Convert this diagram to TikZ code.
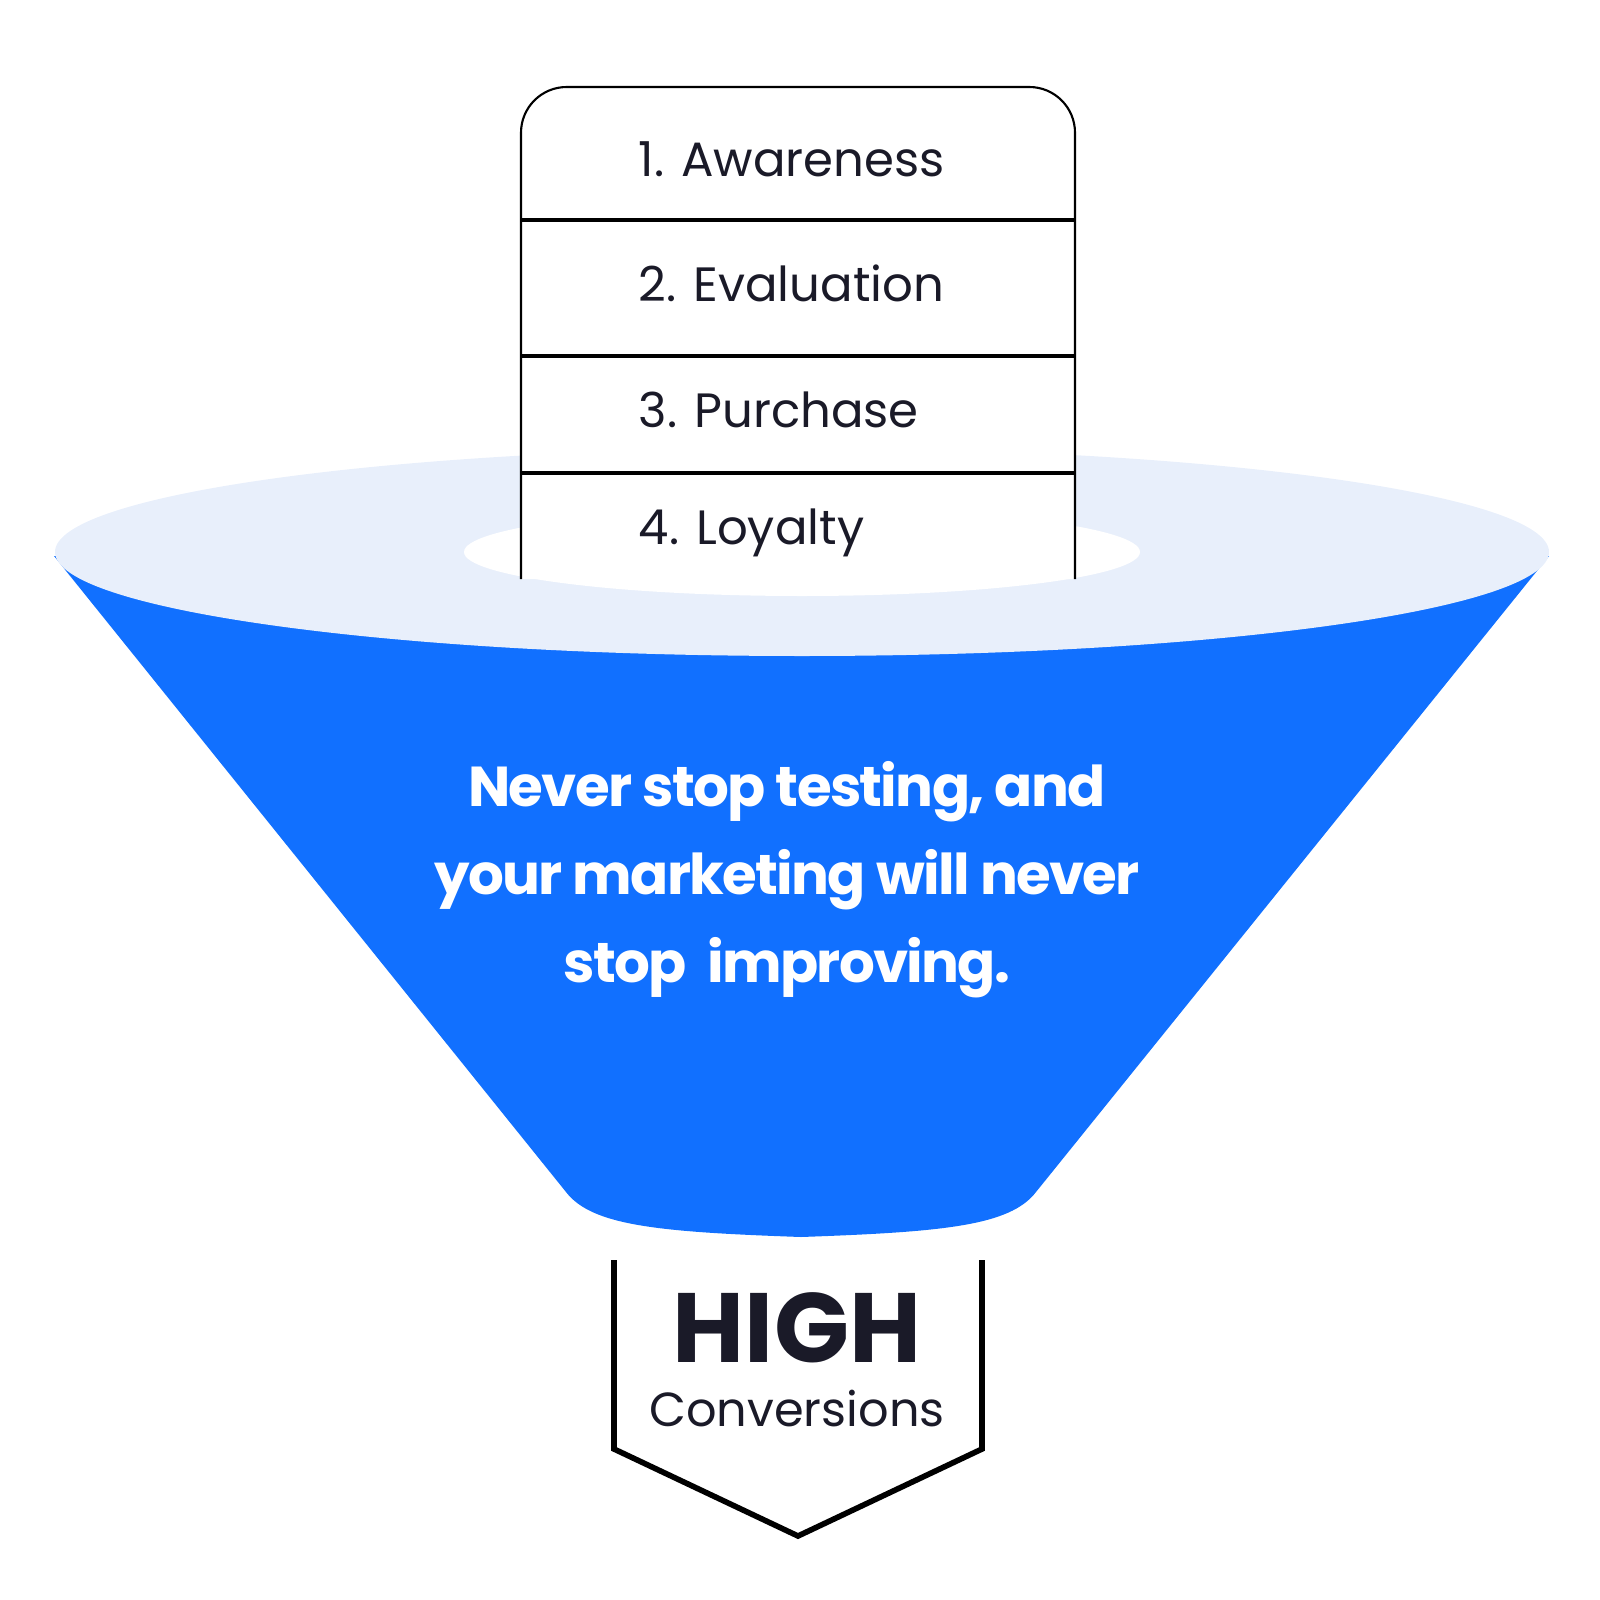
\documentclass[tikz,border=0pt]{standalone}
\usepackage{fontspec}
\setmainfont{Poppins}
\usepackage{tikz}
\usetikzlibrary{arrows.meta, positioning, calc}

\definecolor{funnelblue}{HTML}{1170FF}
\definecolor{rimblue}{HTML}{E8EFFB}
\definecolor{inkdark}{HTML}{1A1A28}

\begin{document}
\begin{tikzpicture}[x=0.01cm, y=-0.01cm,
    stagetxt/.style={inkdark, anchor=base west, inner sep=0pt, font=\fontsize{13.7}{16}\selectfont},
    frameline/.style={black, line width=0.6pt},
    divider/.style={black, line width=1.1pt},
    badge/.style={black, line width=1.6pt, line join=miter}]
  \useasboundingbox (0,0) rectangle (1600,1600);

  % Funnel body
  \fill[funnelblue] (54,556) -- (566,1192)
    .. controls (592,1226) and (660,1232) .. (801,1237)
    .. controls (942,1232) and (1010,1226) .. (1036,1192)
    -- (1549,556) -- cycle;

  % Rim and opening
  \fill[rimblue] (802,552) ellipse [x radius=747, y radius=104];
  \fill[white] (802,552) ellipse [x radius=338, y radius=44];

  % Stage stack
  \filldraw[frameline, fill=white, rounded corners=13pt]
    (521,579) -- (521,87) -- (1075,87) -- (1075,579);
  \draw[divider] (521,220) -- (1075,220);
  \draw[divider] (521,356) -- (1075,356);
  \draw[divider] (521,473) -- (1075,473);

  \node[stagetxt] (aware) at (638,176) {1. Awareness};
  \node[stagetxt] (evalu) at (638,301) {2. Evaluation};
  \node[stagetxt] (purch) at (638,427) {3. Purchase};
  \node[stagetxt] (loyal) at (638,544) {4. Loyalty};

  % Message
  \node[white, align=center, inner sep=0pt, anchor=base,
        font=\bfseries\fontsize{16}{25}\selectfont\addfontfeature{LetterSpace=-3}] (msg) at (787,982)
    {Never stop testing, and\\ your marketing will never\\ stop\ \ improving.};

  % Output badge
  \draw[badge] (614,1260) -- (614,1449) -- (798,1536) -- (982,1449) -- (982,1260);
  \node[inkdark, anchor=base, inner sep=0pt, font=\bfseries\fontsize{28}{30}\selectfont] (high) at (797,1362) {HIGH};
  \node[inkdark, anchor=base, inner sep=0pt, font=\fontsize{13.6}{16}\selectfont] (conv) at (797,1426) {Conversions};
\end{tikzpicture}
\end{document}
